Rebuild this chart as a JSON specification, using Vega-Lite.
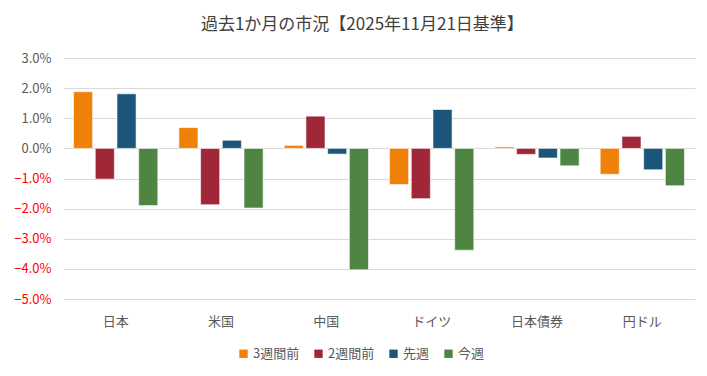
{
  "$schema": "https://vega.github.io/schema/vega-lite/v6.json",
  "autosize": {"type": "none"},
  "width": 632,
  "height": 241,
  "padding": {"left": 63, "top": 58, "right": 12, "bottom": 77},
  "background": "white",
  "config": {"view": {"stroke": null}},
  "title": {
    "text": "過去1か月の市況【2025年11月21日基準】",
    "font": "Noto Sans CJK JP",
    "fontSize": 17,
    "fontWeight": "normal",
    "color": "#404040",
    "anchor": "middle",
    "frame": "bounds",
    "offset": 18,
    "dx": 8
  },
  "data": {
    "values": [
      {"market": "日本", "period": "3週間前", "value": 0.0188},
      {"market": "日本", "period": "2週間前", "value": -0.0102},
      {"market": "日本", "period": "先週", "value": 0.0181},
      {"market": "日本", "period": "今週", "value": -0.0190},
      {"market": "米国", "period": "3週間前", "value": 0.0069},
      {"market": "米国", "period": "2週間前", "value": -0.0187},
      {"market": "米国", "period": "先週", "value": 0.0027},
      {"market": "米国", "period": "今週", "value": -0.0198},
      {"market": "中国", "period": "3週間前", "value": 0.0010},
      {"market": "中国", "period": "2週間前", "value": 0.0107},
      {"market": "中国", "period": "先週", "value": -0.0019},
      {"market": "中国", "period": "今週", "value": -0.0403},
      {"market": "ドイツ", "period": "3週間前", "value": -0.0120},
      {"market": "ドイツ", "period": "2週間前", "value": -0.0167},
      {"market": "ドイツ", "period": "先週", "value": 0.0129},
      {"market": "ドイツ", "period": "今週", "value": -0.0338},
      {"market": "日本債券", "period": "3週間前", "value": 0.0005},
      {"market": "日本債券", "period": "2週間前", "value": -0.0020},
      {"market": "日本債券", "period": "先週", "value": -0.0032},
      {"market": "日本債券", "period": "今週", "value": -0.0058},
      {"market": "円ドル", "period": "3週間前", "value": -0.0086},
      {"market": "円ドル", "period": "2週間前", "value": 0.0040},
      {"market": "円ドル", "period": "先週", "value": -0.0071},
      {"market": "円ドル", "period": "今週", "value": -0.0124}
    ]
  },
  "mark": {"type": "bar", "stroke": "white", "strokeWidth": 0.6},
  "encoding": {
    "x": {
      "field": "market",
      "type": "nominal",
      "sort": ["日本", "米国", "中国", "ドイツ", "日本債券", "円ドル"],
      "scale": {"paddingInner": 0.2, "paddingOuter": 0.1},
      "axis": {
        "title": null,
        "labelAngle": 0,
        "domain": false,
        "ticks": false,
        "labelPadding": 16,
        "labelFont": "Noto Sans CJK JP",
        "labelFontSize": 13,
        "labelColor": "#595959"
      }
    },
    "xOffset": {
      "field": "period",
      "type": "nominal",
      "sort": ["3週間前", "2週間前", "先週", "今週"],
      "scale": {"paddingInner": 0.12}
    },
    "y": {
      "field": "value",
      "type": "quantitative",
      "scale": {"domain": [-0.05, 0.03], "nice": false, "zero": true},
      "axis": {
        "title": null,
        "format": ".1%",
        "values": [-0.05, -0.04, -0.03, -0.02, -0.01, 0, 0.01, 0.02, 0.03],
        "domain": false,
        "ticks": false,
        "labelPadding": 12,
        "labelFont": "Noto Sans CJK JP",
        "labelFontSize": 13,
        "labelColor": {"condition": {"test": "datum.value < 0", "value": "#FF0000"}, "value": "#595959"},
        "gridColor": "#D9D9D9",
        "gridWidth": 1
      }
    },
    "color": {
      "field": "period",
      "type": "nominal",
      "sort": ["3週間前", "2週間前", "先週", "今週"],
      "scale": {
        "domain": ["3週間前", "2週間前", "先週", "今週"],
        "range": ["#F08108", "#A02738", "#1B567A", "#4E8542"]
      },
      "legend": {
        "title": null,
        "orient": "none",
        "direction": "horizontal",
        "legendX": 174,
        "legendY": 289,
        "symbolType": "square",
        "symbolSize": 70,
        "symbolStrokeWidth": 0,
        "labelFont": "Noto Sans CJK JP",
        "labelFontSize": 13,
        "labelColor": "#595959",
        "labelOffset": 3,
        "columnPadding": 12
      }
    }
  }
}
